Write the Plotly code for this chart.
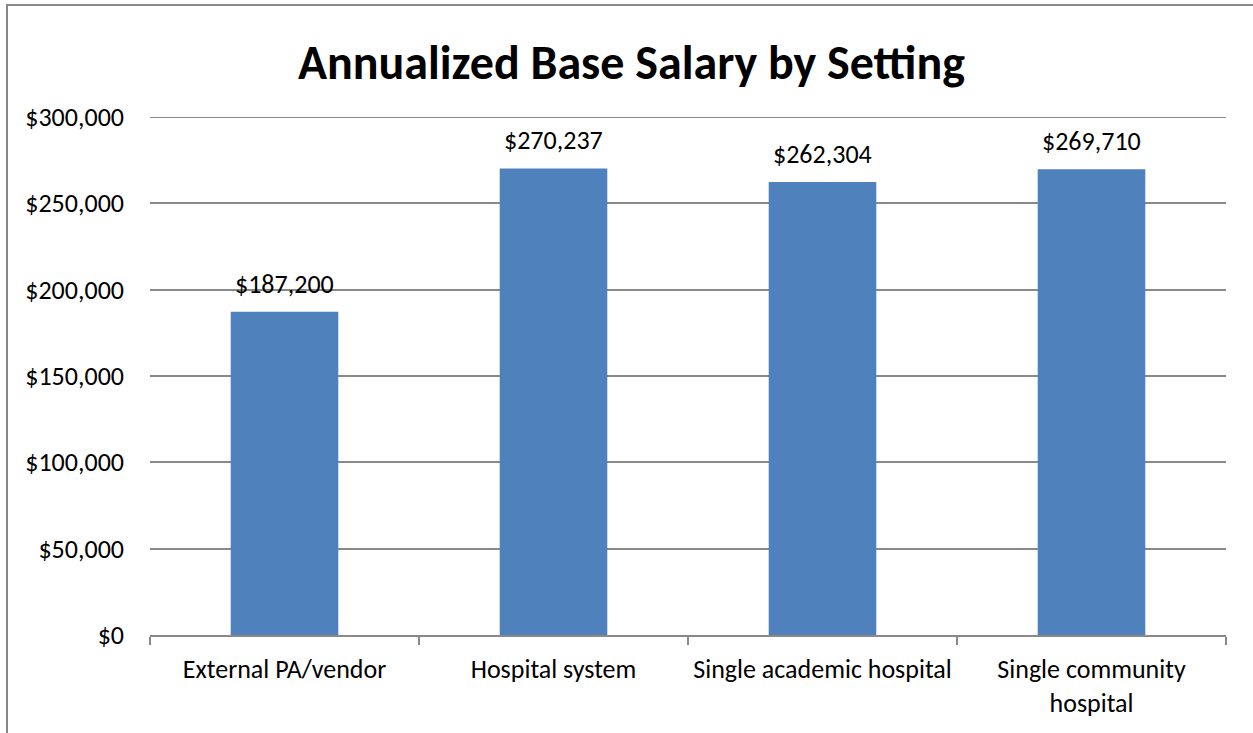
import plotly.graph_objects as go

categories = ["External PA/vendor", "Hospital system", "Single academic hospital", "Single community<br>hospital"]
salaries = [187200, 270237, 262304, 269710]
tick_values = [0, 50000, 100000, 150000, 200000, 250000, 300000]
tick_labels = ["$0", "$50,000", "$100,000", "$150,000", "$200,000", "$250,000", "$300,000"]

W, H = 1253, 733
ml, mr, mt, mb = 150, 27, 117, 98
pw, ph = W - ml - mr, H - mt - mb

font_family = "Calibri, Carlito, Lato, sans-serif"
FS = 26
GRID = "#898989"

fig = go.Figure(go.Bar(
    x=categories, y=salaries,
    marker=dict(color="#4F81BD", line=dict(width=0)),
    width=0.4,
    hoverinfo="x+y",
))

for c, v in zip(categories, salaries):
    fig.add_annotation(x=c, y=v, text=f"${v:,}", showarrow=False,
                       xanchor="center", yanchor="bottom", yshift=10,
                       font=dict(size=FS, family=font_family, color="#000000"))

def px_to_paper_x(p):
    return (p - ml) / pw

def px_to_paper_y(p):
    return (H - mb - p) / ph

fig.update_layout(
    width=W, height=H,
    margin=dict(l=ml, r=mr, t=mt, b=mb),
    paper_bgcolor="white", plot_bgcolor="white",
    showlegend=False,
    font=dict(family=font_family, color="#000000", size=FS),
    title=dict(text="<b>Annualized Base Salary by Setting</b>",
               x=0.504, xanchor="center", y=1 - 62 / H, yanchor="middle",
               font=dict(size=48, family=font_family, color="#000000")),
    xaxis=dict(
        showgrid=False, showline=True, linecolor=GRID, linewidth=2,
        ticks="outside", tickson="boundaries", ticklen=8, tickcolor=GRID, tickwidth=2,
        ticklabelstandoff=10,
        tickfont=dict(size=FS, family=font_family, color="#000000"),
    ),
    yaxis=dict(
        range=[0, 300000], tickvals=tick_values, ticktext=tick_labels,
        showgrid=True, gridcolor=GRID, gridwidth=2,
        showline=False, zeroline=False, ticks="", ticklabelstandoff=25,
        tickfont=dict(size=FS, family=font_family, color="#000000"),
    ),
    shapes=[
        dict(type="rect", xref="paper", yref="paper",
             x0=px_to_paper_x(7), x1=px_to_paper_x(1262),
             y0=px_to_paper_y(745), y1=px_to_paper_y(5),
             line=dict(color=GRID, width=2), fillcolor="rgba(0,0,0,0)", layer="below"),
        dict(type="line", xref="paper", yref="y", x0=0, x1=1,
             y0=tick_values[-1], y1=tick_values[-1],
             line=dict(color=GRID, width=2), layer="below"),
    ],
)

fig.write_html("out.html", config={"displayModeBar": False},
               post_script="document.body.style.margin='0';document.body.style.overflow='hidden';")
